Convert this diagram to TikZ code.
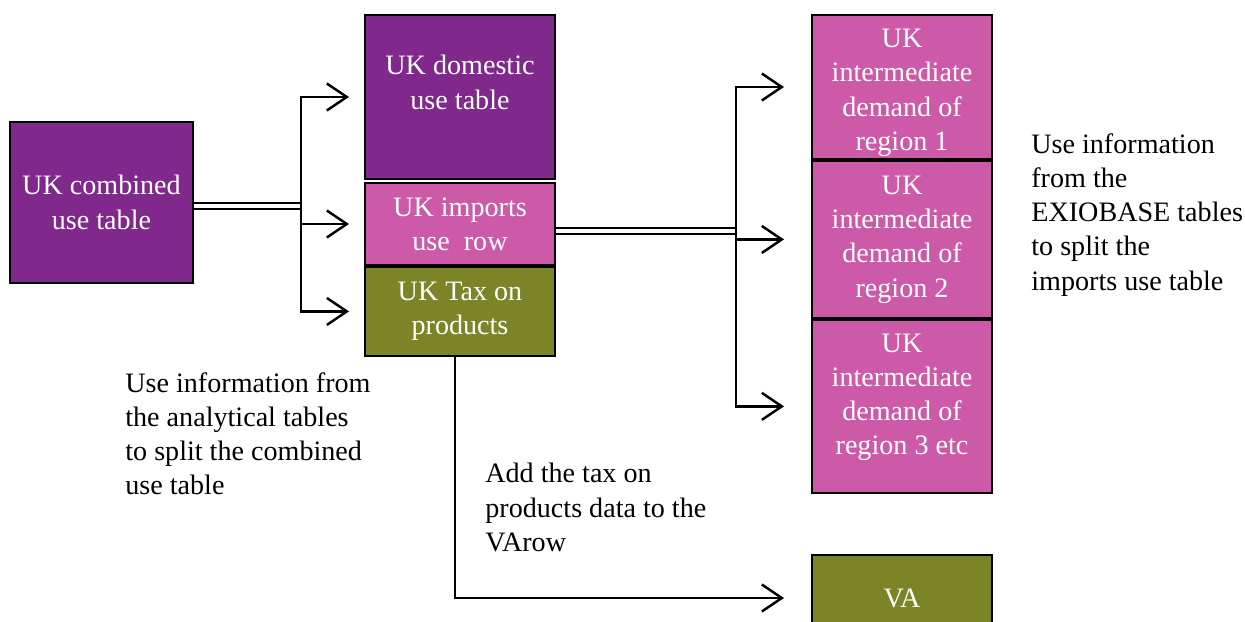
\documentclass[tikz,border=0pt]{standalone}
\usepackage{fontspec}
\setmainfont{Liberation Serif}
\usetikzlibrary{arrows.meta, positioning}
\definecolor{tablepurple}{RGB}{128,40,140}
\definecolor{tablepink}{RGB}{204,90,168}
\definecolor{tableolive}{RGB}{124,132,40}

\begin{document}
\begin{tikzpicture}[
    x=0.2mm, y=-0.2mm,
    every node/.style={
        align=center,
        inner sep=0pt,
        font=\fontsize{16}{19.5}\selectfont
    },
    table/.style={draw, line width=1.1pt, text=white},
    note/.style={align=left, anchor=north west},
    arrow/.style={-{Straight Barb[length=4mm, width=5.4mm, line width=1.4pt]},
        line width=1.4pt, shorten >=3mm},
    link/.style={double, double distance=2.2pt, line width=1.1pt}
]
\useasboundingbox (0,0) rectangle (1245,621);

% --- Left: combined table ---
\node[table, fill=tablepurple, minimum width=36.6mm, minimum height=32.2mm]
    (comb) at (101.5,202.5) {UK combined\\use table};

% --- Middle: split tables ---
\node[table, fill=tablepurple, minimum width=38mm, minimum height=32.8mm]
    (dom) at (460,97) {UK domestic\\use table\\[-1mm]\rule{0pt}{3mm}};
\node[table, fill=tablepink, minimum width=38mm, minimum height=16.4mm]
    (imp) at (460,224) {UK imports\\use\ \ row};
\node[table, fill=tableolive, minimum width=38mm, minimum height=17.8mm]
    (tax) [below=0pt of imp] {UK Tax on\\products};

% --- Right: regions and VA ---
\node[table, fill=tablepink, minimum width=36mm, minimum height=28.8mm]
    (reg1) at (902,87) {\rule{0pt}{6mm}UK\\intermediate\\demand of\\region 1};
\node[table, fill=tablepink, minimum width=36mm, minimum height=31.4mm]
    (reg2) [below=0pt of reg1] {UK\\intermediate\\demand of\\region 2};
\node[table, fill=tablepink, minimum width=36mm, minimum height=34.6mm]
    (reg3) [below=0pt of reg2] {UK\\intermediate\\demand of\\region 3 etc\\[-2mm]\rule{0pt}{2mm}};
\node[table, fill=tableolive, minimum width=36mm, minimum height=17.2mm]
    (va) at (902,598) {VA};

% --- Notes ---
\node[note] (note1) at (125,372) {Use information from\\the analytical tables\\to split the combined\\use table};
\node[note] (note2) at (485,463) {Add the tax on\\products data to the\\VArow};
\node[note] (note3) at (1031,133) {Use information\\from the\\EXIOBASE tables\\to split the\\imports use table};

% --- Connectors ---
\coordinate (split1) at (301,206);
\coordinate (split2) at (736,231);
\draw[link] (comb.east |- split1) -- (split1);
\draw[link] (imp.east |- split2) -- (split2);
\foreach \t in {dom, imp, tax}
    \draw[arrow] (split1) |- (\t.west);
\foreach \t in {reg1, reg2, reg3}
    \draw[arrow, shorten >=5.4mm] (split2) |- (\t.west);
\draw[arrow, shorten >=5.4mm] ([xshift=-1mm]tax.south) |- (va.west);

\end{tikzpicture}
\end{document}
